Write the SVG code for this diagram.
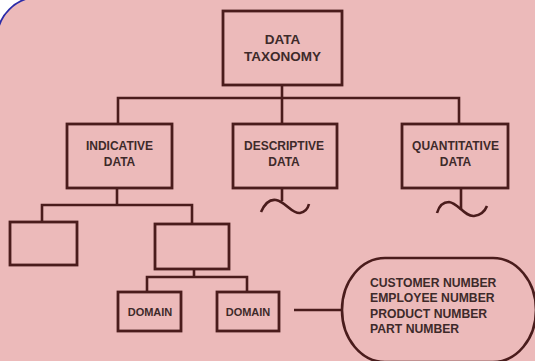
<svg xmlns="http://www.w3.org/2000/svg" width="535" height="361" viewBox="0 0 535 361">
<defs>
<style>
.box{fill:none;stroke:#4a1c1c;stroke-width:2.8}
.ln{fill:none;stroke:#4a1c1c;stroke-width:2.6}
.t{font-family:"Liberation Sans",Arial,sans-serif;font-weight:bold;fill:#3e2a2a;text-anchor:middle}
.t12{font-size:12px}
.t13{font-size:13.5px}
.t11{font-size:11px}
.tl{font-family:"Liberation Sans",Arial,sans-serif;font-weight:bold;fill:#3e2a2a;font-size:12.2px}
</style>
</defs>
<rect x="0" y="0" width="535" height="361" fill="#ffffff"/>
<rect id="background" x="-3" y="-3" width="600" height="420" rx="42" ry="42" fill="#ecbaba" stroke="#2b2ba8" stroke-width="1.8"/>

<g id="connectors">
<path class="ln" d="M282 85 V98 M118 124 V98 H459 V124 M282 98 V124"/>
<path class="ln" d="M117 188 V205 M42 222 V205 H192 V224"/>
<path class="ln" d="M194 269 V277 M147 292 V277 H247 V292"/>
<path class="ln" d="M294 310 H342"/>
<path class="ln" d="M282 188 V201"/>
<path class="ln" d="M261 212 C265 203 270 199 276 200 C286 202 292 214 300 213 C305 212 308 208 309 204"/>
<path class="ln" d="M461 188 V210"/>
<path class="ln" d="M437 213 C439 206 443 202 449 202 C458 203 465 217 474 216 C481 215 485 211 487 206"/>
</g>

<g id="data-taxonomy">
<rect class="box" x="223" y="11" width="119" height="74"/>
<text class="t t13" x="282.5" y="44">DATA</text>
<text class="t t13" x="282.5" y="61">TAXONOMY</text>
</g>

<g id="indicative-data">
<rect class="box" x="67" y="124" width="105" height="64"/>
<text class="t t12" x="119.5" y="150">INDICATIVE</text>
<text class="t t12" x="119.5" y="166">DATA</text>
</g>

<g id="descriptive-data">
<rect class="box" x="233" y="124" width="104" height="64"/>
<text class="t t12" x="284" y="150">DESCRIPTIVE</text>
<text class="t t12" x="284" y="166">DATA</text>
</g>

<g id="quantitative-data">
<rect class="box" x="402" y="124" width="106" height="64"/>
<text class="t t12" x="455.5" y="150">QUANTITATIVE</text>
<text class="t t12" x="455.5" y="166">DATA</text>
</g>

<g id="empty-left">
<rect class="box" x="10" y="222" width="67" height="43"/>
</g>

<g id="empty-right">
<rect class="box" x="155" y="224" width="74" height="45"/>
</g>

<g id="domain-1">
<rect class="box" x="118" y="292" width="63" height="39"/>
<text class="t t11" x="150" y="316">DOMAIN</text>
</g>

<g id="domain-2">
<rect class="box" x="217" y="292" width="62" height="39"/>
<text class="t t11" x="248" y="316">DOMAIN</text>
</g>

<g id="examples">
<path class="ln" d="M385 258 H493 A43 52 0 0 1 536 310 A43 52 0 0 1 493 362 H385 A43 52 0 0 1 342 310 A43 52 0 0 1 385 258 Z"/>
<text class="tl" x="370" y="286.5">CUSTOMER NUMBER</text>
<text class="tl" x="370" y="301.5">EMPLOYEE NUMBER</text>
<text class="tl" x="370" y="317.5">PRODUCT NUMBER</text>
<text class="tl" x="370" y="333">PART NUMBER</text>
</g>
</svg>
